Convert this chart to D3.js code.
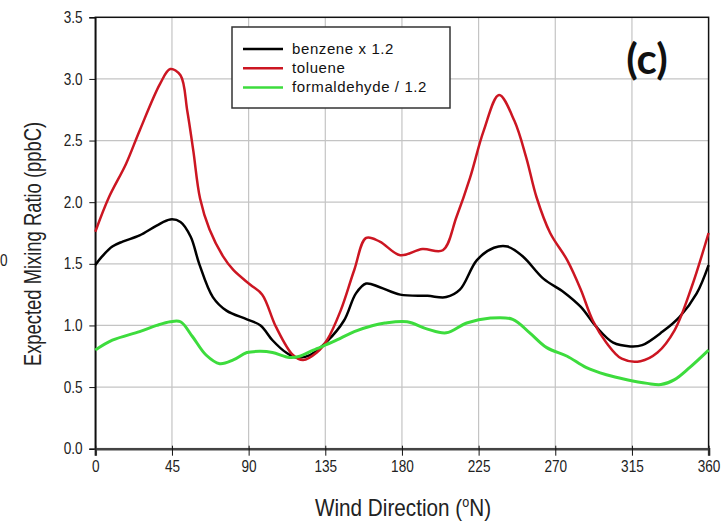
<!DOCTYPE html>
<html>
<head>
<meta charset="utf-8">
<script src="https://cdn.jsdelivr.net/npm/d3@7"></script>
<style>
  body { margin: 0; background: #fff; }
  svg { display: block; }
  .tick text { font-family: "Liberation Sans", Arial, sans-serif; font-size: 16px; fill: #222; }
</style>
</head>
<body>
<div id="chart"></div>
<script>
// wind direction (deg N) / expected mixing ratio (ppbC)
var benzene = [[0,1.49],[4,1.56],[10,1.64],[16,1.68],[26,1.73],[36,1.81],[44,1.86],[50,1.84],[56,1.72],[61,1.50],[69,1.23],[77,1.12],[89,1.05],[97,1.00],[104,0.88],[112,0.78],[118,0.74],[126,0.76],[136,0.87],[146,1.04],[153,1.26],[159,1.34],[167,1.31],[179,1.25],[195,1.24],[206,1.23],[214,1.29],[224,1.53],[234,1.63],[242,1.64],[251,1.56],[263,1.38],[275,1.27],[285,1.15],[294,0.99],[304,0.86],[314,0.83],[321,0.84],[333,0.95],[343,1.07],[353,1.26],[360,1.49]];
var toluene = [[0,1.76],[8,2.04],[18,2.31],[26,2.58],[38,2.96],[44,3.08],[50,3.03],[54,2.74],[57.5,2.42],[61.5,2.03],[67,1.78],[75,1.56],[81,1.45],[91,1.33],[98,1.25],[106,0.99],[116,0.76],[122,0.72],[130,0.78],[136,0.88],[144,1.12],[152,1.45],[159,1.71],[167,1.68],[179,1.57],[192,1.62],[204,1.61],[212,1.88],[220,2.20],[228,2.58],[237,2.87],[246,2.66],[253,2.36],[259,2.04],[267,1.75],[277,1.53],[285,1.29],[292,1.04],[300,0.86],[309,0.73],[320,0.71],[330,0.78],[340,0.96],[350,1.31],[360,1.75]];
var formaldehyde = [[0,0.80],[10,0.88],[26,0.95],[36,1.00],[44,1.03],[50,1.03],[57,0.91],[65,0.76],[73,0.69],[81,0.72],[89,0.78],[97,0.79],[104,0.78],[114,0.74],[120,0.75],[128,0.80],[140,0.87],[152,0.95],[163,1.00],[170,1.02],[183,1.03],[195,0.97],[206,0.94],[218,1.02],[232,1.06],[245,1.05],[255,0.94],[265,0.82],[277,0.75],[288,0.66],[300,0.60],[312,0.56],[324,0.53],[332,0.52],[340,0.56],[349,0.66],[360,0.80]];

var seriesNames = ["benzene x 1.2", "toluene", "formaldehyde / 1.2"];
var seriesColors = ["#000000", "#cc1622", "#3ddc3d"];
var xTicks = [0, 45, 90, 135, 180, 225, 270, 315, 360];
var yTicks = [0, 0.5, 1, 1.5, 2, 2.5, 3, 3.5];

var width = 723,
    height = 522;

var x = d3.scaleLinear().domain([0, 360]).range([95.3, 708.6]);
var y = d3.scaleLinear().domain([0, 3.5]).range([448.7, 17.3]);

var svg = d3.select("#chart").append("svg")
    .attr("width", width)
    .attr("height", height);

// grid
svg.append("g")
    .selectAll("line.v")
    .data(xTicks.slice(1, -1))
    .enter().append("line")
    .attr("x1", d => x(d)).attr("x2", d => x(d))
    .attr("y1", y(3.5)).attr("y2", y(0))
    .attr("stroke", "#c4c4c4").attr("stroke-width", 1.2);
svg.append("g")
    .selectAll("line.h")
    .data(yTicks.slice(1, -1))
    .enter().append("line")
    .attr("x1", x(0)).attr("x2", x(360))
    .attr("y1", d => y(d)).attr("y2", d => y(d))
    .attr("stroke", "#c4c4c4").attr("stroke-width", 1.2);

// frame
svg.append("rect")
    .attr("x", x(0)).attr("y", y(3.5))
    .attr("width", x(360) - x(0)).attr("height", y(0) - y(3.5))
    .attr("fill", "none").attr("stroke", "#111").attr("stroke-width", 1.5);

// axes
var yAxis = svg.append("g")
    .attr("transform", "translate(" + x(0) + ",0)")
    .call(d3.axisLeft(y).tickValues(yTicks).tickFormat(d3.format(".1f")).tickSize(6).tickPadding(7));
yAxis.select(".domain").attr("stroke", "#111").attr("stroke-width", 1.5);
yAxis.selectAll(".tick line").attr("stroke", "#111");
// narrow look of the original
yAxis.selectAll(".tick text").attr("x", -15).attr("transform", "scale(0.85,1)");

var xAxis = svg.append("g")
    .attr("transform", "translate(0," + y(0) + ")")
    .call(d3.axisBottom(x).tickValues(xTicks).tickFormat(d3.format("d")).tickSize(7).tickPadding(5));
xAxis.select(".domain").attr("stroke", "#444").attr("stroke-width", 2.5);
xAxis.selectAll(".tick line").attr("stroke", "#111").attr("y1", -3);
xAxis.selectAll(".tick text").attr("transform", "scale(0.85,1)");

// curves
var line = d3.line()
    .x(d => x(d[0]))
    .y(d => y(d[1]))
    .curve(d3.curveCatmullRom.alpha(0.5));

[benzene, toluene, formaldehyde].forEach(function (s, i) {
    svg.append("path")
        .datum(s)
        .attr("fill", "none")
        .attr("stroke", seriesColors[i])
        .attr("stroke-width", i == 2 ? 3 : 2.5)
        .attr("stroke-linejoin", "round")
        .attr("d", line);
});

// legend
var lg = svg.append("g").attr("transform", "translate(232,27)");
lg.append("rect")
    .attr("width", 218).attr("height", 81)
    .attr("fill", "#fff").attr("stroke", "#333").attr("stroke-width", 1.5);
seriesNames.forEach(function (n, i) {
    var yy = 22 + i * 19.2;
    lg.append("line")
        .attr("x1", 11).attr("x2", 51)
        .attr("y1", yy).attr("y2", yy)
        .attr("stroke", seriesColors[i]).attr("stroke-width", 2.5);
    lg.append("text")
        .attr("x", 60).attr("y", yy + 5)
        .style("font-family", "'Liberation Sans', Arial, sans-serif")
        .style("font-size", "15px")
        .style("letter-spacing", "0.6px")
        .attr("fill", "#111")
        .text(n);
});

// panel label
svg.append("text")
    .attr("x", 647).attr("y", 74)
    .attr("text-anchor", "middle")
    .style("font-family", "Lato, 'Open Sans', sans-serif")
    .style("font-weight", "bold")
    .style("font-size", "42px")
    .attr("fill", "#111")
    .text("(c)");

// axis titles
var tx = svg.append("text")
    .attr("transform", "translate(403,516) scale(0.9,1)")
    .attr("text-anchor", "middle")
    .style("font-family", "'Liberation Sans', Arial, sans-serif")
    .style("font-size", "23px")
    .attr("fill", "#222");
tx.append("tspan").text("Wind Direction (");
tx.append("tspan").attr("dy", -9).style("font-size", "14px").text("o");
tx.append("tspan").attr("dy", 9).text("N)");

svg.append("text")
    .attr("transform", "translate(41,244) rotate(-90) scale(0.8,1)")
    .attr("text-anchor", "middle")
    .style("font-family", "'Liberation Sans', Arial, sans-serif")
    .style("font-size", "23px")
    .attr("fill", "#222")
    .text("Expected Mixing Ratio (ppbC)");

// stray label from the neighbouring panel
svg.append("text")
    .attr("transform", "translate(0,266) scale(0.85,1)")
    .style("font-family", "'Liberation Sans', Arial, sans-serif")
    .style("font-size", "16px")
    .attr("fill", "#222")
    .text("0");
</script>
</body>
</html>
